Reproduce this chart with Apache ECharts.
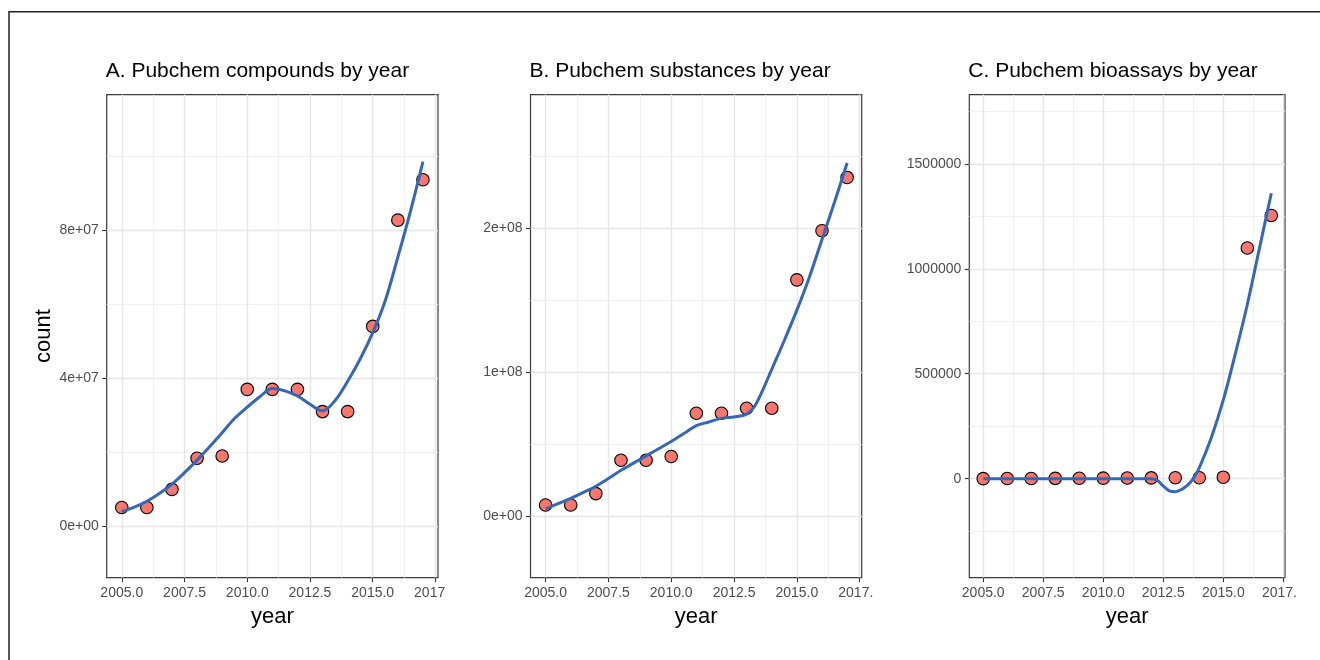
<!DOCTYPE html>
<html>
<head>
<meta charset="utf-8">
<script src="https://cdn.jsdelivr.net/npm/echarts@6/dist/echarts.min.js"></script>
<style>
html,body{margin:0;padding:0;background:#fff;}
#chart{width:1320px;height:660px;}
</style>
</head>
<body>
<div id="chart"></div>
<script>
// ---------------- data ----------------
const years = [2005, 2006, 2007, 2008, 2009, 2010, 2011, 2012, 2013, 2014, 2015, 2016, 2017];
const compounds  = [5.1e6, 5.1e6, 1.0e7, 1.84e7, 1.9e7, 3.7e7, 3.7e7, 3.7e7, 3.1e7, 3.1e7, 5.4e7, 8.27e7, 9.36e7];
const substances = [8.0e6, 8.0e6, 1.59e7, 3.9e7, 3.9e7, 4.16e7, 7.16e7, 7.16e7, 7.5e7, 7.5e7, 1.64e8, 1.98e8, 2.35e8];
const bioassays  = [200, 500, 1000, 1500, 2000, 2500, 3000, 3500, 4000, 4500, 7000, 1.099e6, 1.254e6];

// smoothed trend lines
const smoothYearsA = [2005, 2005.5, 2006, 2006.5, 2007, 2007.5, 2008, 2008.5, 2009, 2009.5, 2010, 2010.5, 2011, 2011.5, 2012, 2012.5, 2013, 2013.5, 2014, 2014.5, 2015, 2015.5, 2016, 2016.5, 2017];
const smoothCompounds = [4.0e6, 5.2e6, 6.8e6, 8.9e6, 1.14e7, 1.45e7, 1.79e7, 2.15e7, 2.53e7, 2.92e7, 3.22e7, 3.5e7, 3.72e7, 3.66e7, 3.52e7, 3.3e7, 3.12e7, 3.4e7, 3.92e7, 4.52e7, 5.23e7, 6.1e7, 7.27e7, 8.5e7, 9.85e7];

const smoothYearsB = [2005, 2005.5, 2006, 2006.5, 2007, 2007.5, 2008, 2008.5, 2009, 2009.5, 2010, 2010.5, 2011, 2011.5, 2012, 2012.5, 2013, 2013.3, 2013.6, 2014, 2014.5, 2015, 2015.5, 2016, 2016.5, 2017];
const smoothSubstances = [5.3e6, 8.9e6, 1.25e7, 1.67e7, 2.1e7, 2.63e7, 3.2e7, 3.7e7, 4.2e7, 4.7e7, 5.2e7, 5.75e7, 6.3e7, 6.55e7, 6.8e7, 6.9e7, 7.1e7, 7.6e7, 8.6e7, 1.02e8, 1.22e8, 1.43e8, 1.66e8, 1.92e8, 2.18e8, 2.45e8];

const smoothYearsC = [2005, 2006, 2007, 2008, 2009, 2010, 2011, 2012, 2012.25, 2012.5, 2012.75, 2013, 2013.25, 2013.5, 2013.75, 2014, 2014.5, 2015, 2015.5, 2016, 2016.5, 2017];
const smoothBioassays = [0, 0, 0, 0, 0, 0, 0, 0, -8e3, -3.5e4, -5.8e4, -6.2e4, -5.2e4, -3.2e4, 0, 5.2e4, 1.95e5, 3.75e5, 5.95e5, 8.3e5, 1.095e6, 1.36e6];

// axis ticks
const xTicks = [2005, 2007.5, 2010, 2012.5, 2015, 2017.5];
const xTickLabels = ['2005.0', '2007.5', '2010.0', '2012.5', '2015.0', '2017.5'];
const xMinor = [2006.25, 2008.75, 2011.25, 2013.75, 2016.25];

const yTicksA = [0, 4e7, 8e7];
const yLabelsA = ['0e+00', '4e+07', '8e+07'];
const yMinorA = [2e7, 6e7, 1e8];

const yTicksB = [0, 1e8, 2e8];
const yLabelsB = ['0e+00', '1e+08', '2e+08'];
const yMinorB = [5e7, 1.5e8, 2.5e8];

const yTicksC = [0, 500000, 1000000, 1500000];
const yLabelsC = ['0', '500000', '1000000', '1500000'];
const yMinorC = [-250000, 250000, 750000, 1250000, 1750000];

const titles = ['A. Pubchem compounds by year', 'B. Pubchem substances by year', 'C. Pubchem bioassays by year'];

// ---------------- layout / style ----------------
const FONT = 'Liberation Sans, Arial, Helvetica, sans-serif';
const panels = [
  {left: 106.7, top: 94.6, width: 331.3, height: 483.1, xmin: 2004.4, xmax: 2017.6, ymin: -1.386e7, ymax: 1.166e8,
   yTicks: yTicksA, yLabels: yLabelsA, yMinor: yMinorA, pts: compounds, sx: smoothYearsA, sy: smoothCompounds, clipAt: 4, yName: 'count'},
  {left: 530.5, top: 94.6, width: 331.2, height: 483.1, xmin: 2004.4, xmax: 2017.58, ymin: -4.24e7, ymax: 2.924e8,
   yTicks: yTicksB, yLabels: yLabelsB, yMinor: yMinorB, pts: substances, sx: smoothYearsB, sy: smoothSubstances, clipAt: 5, yName: ''},
  {left: 969.3, top: 94.6, width: 315.7, height: 483.1, xmin: 2004.42, xmax: 2017.57, ymin: -4.72e5, ymax: 1.830e6,
   yTicks: yTicksC, yLabels: yLabelsC, yMinor: yMinorC, pts: bioassays, sx: smoothYearsC, sy: smoothBioassays, clipAt: 5, yName: ''}
];

const grids = [], xAxes = [], yAxes = [], series = [], titleOpts = [];
const labelRich = {
  v: {color: '#4D4D4D', fontSize: 14, fontFamily: FONT},
  h: {color: 'rgba(0,0,0,0)', fontSize: 14, fontFamily: FONT}
};
const MAJOR = {color: '#E6E6E6', width: 1.4};
const MINOR = {color: '#EEEEEE', width: 0.9};

panels.forEach((p, i) => {
  grids.push({
    left: p.left, top: p.top, width: p.width, height: p.height,
    containLabel: false, outerBoundsMode: 'none',
    show: true, backgroundColor: '#fff', borderColor: '#3a3a3a', borderWidth: 1.2, z: 0
  });
  titleOpts.push({
    text: titles[i], left: p.left - 1, top: 60.5, padding: 0,
    textStyle: {fontFamily: FONT, fontSize: 21, fontWeight: 'normal', color: '#000'}
  });
  // major x
  xAxes.push({
    type: 'value', gridIndex: i, min: p.xmin, max: p.xmax, position: 'bottom',
    axisLine: {show: false, onZero: false},
    axisTick: {show: true, customValues: xTicks, length: 4.5, lineStyle: {color: '#333', width: 1.1}},
    axisLabel: {
      customValues: xTicks, margin: 8, rich: labelRich,
      formatter: (v) => {
        const k = xTicks.indexOf(v);
        const s = k >= 0 ? xTickLabels[k] : String(v);
        if (k === xTicks.length - 1) {
          return '{v|' + s.slice(0, p.clipAt) + '}{h|' + s.slice(p.clipAt) + '}';
        }
        return '{v|' + s + '}';
      }
    },
    splitLine: {show: true, lineStyle: MAJOR},
    name: 'year', nameLocation: 'middle', nameGap: 28,
    nameTextStyle: {fontFamily: FONT, fontSize: 22, color: '#000'}
  });
  // minor x
  xAxes.push({
    type: 'value', gridIndex: i, min: p.xmin, max: p.xmax, position: 'top',
    axisLine: {show: false, onZero: false}, axisLabel: {show: false},
    axisTick: {show: false, customValues: xMinor},
    splitLine: {show: true, lineStyle: MINOR}
  });
  // major y
  yAxes.push({
    type: 'value', gridIndex: i, min: p.ymin, max: p.ymax, position: 'left',
    axisLine: {show: false, onZero: false},
    axisTick: {show: true, customValues: p.yTicks, length: 4.5, lineStyle: {color: '#333', width: 1.1}},
    axisLabel: {
      customValues: p.yTicks, margin: 8, color: '#4D4D4D', fontSize: 14, fontFamily: FONT,
      formatter: (v) => { const k = p.yTicks.indexOf(v); return k >= 0 ? p.yLabels[k] : String(v); }
    },
    splitLine: {show: true, lineStyle: MAJOR},
    name: p.yName, nameLocation: 'middle', nameGap: 52, nameRotate: 90,
    nameTextStyle: {fontFamily: FONT, fontSize: 22, color: '#000'}
  });
  // minor y
  yAxes.push({
    type: 'value', gridIndex: i, min: p.ymin, max: p.ymax, position: 'right',
    axisLine: {show: false, onZero: false}, axisLabel: {show: false},
    axisTick: {show: false, customValues: p.yMinor},
    splitLine: {show: true, lineStyle: MINOR}
  });
  series.push({
    type: 'scatter', xAxisIndex: 2 * i, yAxisIndex: 2 * i,
    data: years.map((y, k) => [y, p.pts[k]]),
    symbol: 'circle', symbolSize: 12.5,
    itemStyle: {color: '#F8766D', borderColor: '#000', borderWidth: 1.1, opacity: 1},
    z: 3, silent: true
  });
  series.push({
    type: 'line', xAxisIndex: 2 * i, yAxisIndex: 2 * i,
    data: p.sx.map((x, k) => [x, p.sy[k]]),
    showSymbol: false, smooth: 0.35,
    lineStyle: {color: '#3567B8', width: 3},
    z: 4, silent: true
  });
});

const chart = echarts.init(document.getElementById('chart'), null, {renderer: 'canvas'});
chart.setOption({
  backgroundColor: '#fff',
  animation: false,
  title: titleOpts,
  grid: grids,
  xAxis: xAxes,
  yAxis: yAxes,
  series: series,
  graphic: [{
    type: 'rect', silent: true, z: 100,
    shape: {x: 9, y: 11.7, width: 1500, height: 800},
    style: {fill: 'none', stroke: '#222', lineWidth: 1.5}
  }]
});
</script>
</body>
</html>
